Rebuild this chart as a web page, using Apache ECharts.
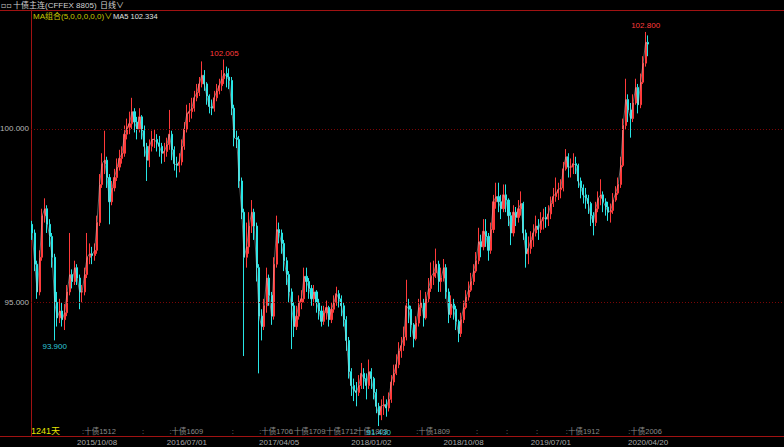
<!DOCTYPE html>
<html><head><meta charset="utf-8">
<script src="https://cdn.jsdelivr.net/npm/echarts@6/dist/echarts.min.js"></script>
<style>html,body{margin:0;padding:0;background:#000;}#c{width:784px;height:447px;}</style>
</head><body><div id="c"></div>
<script>
// ---- texts ----
const titleText = '十债主连(CFFEX 8805)';
const periodText = '日线∨';
const maTitle = 'MA组合(5,0,0,0,0,0)∨';
const maValueText = 'MA5 102.334';
const dayCountText = '1241天';

// ---- weekly candles (open = previous close) ----
const firstOpen = 97.25;
const closes = [
97.0,96.1,95.3,96.3,97.5,97.7,97.25,96.9,96.3,95.0,
94.55,94.75,94.5,94.7,95.3,95.8,95.6,96.0,95.7,95.3,
95.3,95.8,96.3,96.4,96.35,96.5,97.3,98.4,99.0,99.1,
98.6,97.9,98.3,98.6,98.9,99.15,99.3,99.85,100.05,100.15,
100.5,100.2,100.0,100.35,99.95,99.5,99.1,99.5,99.7,99.7,
99.6,99.5,99.3,99.35,99.55,99.85,99.4,99.0,98.95,99.05,
99.5,100.0,100.45,100.5,100.6,100.9,101.05,101.3,101.55,101.3,
100.95,100.65,100.6,100.9,101.1,101.25,101.45,101.6,101.5,101.4,
100.6,99.75,99.7,98.5,97.6,96.3,96.6,97.2,97.6,97.2,
96.0,94.6,94.3,94.9,95.7,95.2,94.6,96.1,97.1,97.0,
96.7,96.2,95.8,95.3,94.9,94.3,94.6,95.0,95.1,95.75,
95.6,95.4,95.1,95.3,95.0,94.75,94.45,94.7,94.85,94.5,
94.8,95.0,95.25,95.1,94.9,94.5,93.9,93.0,92.6,92.45,
92.4,92.6,92.95,92.8,92.6,93.0,92.8,92.4,92.0,91.75,
92.0,92.05,91.95,92.2,92.7,92.95,93.2,93.6,93.75,94.0,
94.9,94.8,94.35,93.95,94.4,94.85,95.0,94.55,95.1,95.4,
95.75,95.85,96.1,95.6,95.7,96.0,95.3,94.65,94.95,94.8,
94.45,94.1,94.5,94.85,95.15,95.35,95.6,95.9,96.2,96.75,
96.6,97.05,96.9,96.5,97.1,97.9,98.05,97.9,97.7,98.1,
97.95,97.5,97.0,97.6,97.45,97.7,97.85,97.0,96.4,96.55,
96.8,97.0,97.2,97.1,97.35,97.45,97.4,97.55,97.85,98.05,
98.15,98.25,98.3,98.85,99.2,98.9,98.9,99.0,98.95,98.5,
98.3,98.1,98.0,97.85,97.5,97.3,97.7,98.0,98.1,97.9,
97.75,97.6,97.65,97.95,98.15,98.4,98.95,100.1,100.85,100.55,
100.3,100.75,101.2,100.7,101.35,101.9,102.5,102.45];
const highs = [
97.35,97.1,96.2,96.5,97.7,98.0,97.8,97.4,97.0,96.4,
95.3,95.1,95.0,94.95,95.5,97.0,95.95,96.2,96.1,95.8,
95.5,96.0,97.0,96.7,96.6,96.7,97.5,98.7,99.3,99.95,
99.2,98.7,98.5,98.85,99.15,99.4,99.5,100.1,100.3,100.5,
100.9,100.6,100.35,100.6,100.4,100.1,99.6,99.7,99.95,100.0,
99.85,99.8,99.6,99.6,99.75,100.55,99.95,99.5,99.2,99.3,
99.7,100.2,100.7,100.75,100.9,101.1,101.3,101.5,101.95,101.7,
101.35,101.0,100.85,101.1,101.3,101.45,101.7,102.005,101.8,101.75,
101.5,100.7,99.95,99.8,98.6,97.7,97.3,97.6,97.95,97.7,
97.3,96.1,94.8,95.1,96.0,95.8,95.3,96.3,97.5,97.3,
97.1,96.8,96.3,95.9,95.4,95.0,94.9,95.2,95.35,96.0,
96.0,95.7,95.5,95.5,95.35,95.1,94.9,94.9,95.05,94.9,
95.0,95.2,95.45,95.35,95.2,95.0,94.6,94.0,93.1,92.8,
92.7,92.9,93.25,93.1,92.95,93.35,93.1,92.85,92.5,92.1,
92.2,92.3,92.2,92.4,92.9,93.2,93.5,93.85,94.0,94.3,
95.65,95.1,94.9,94.4,94.6,95.1,95.35,95.1,95.3,95.7,
96.15,96.2,96.55,96.2,96.0,96.25,96.1,95.4,95.2,95.1,
94.9,94.5,94.7,95.05,95.35,95.6,95.85,96.1,96.45,97.15,
96.95,97.4,97.4,97.0,97.3,98.1,98.45,98.45,98.1,98.4,
98.4,98.0,97.6,97.8,97.75,97.95,98.2,97.9,97.1,96.9,
97.05,97.25,97.5,97.4,97.6,97.7,97.75,97.8,98.05,98.3,
98.6,98.45,98.55,99.05,99.42,99.3,99.15,99.3,99.2,99.0,
98.6,98.4,98.3,98.1,97.9,97.6,97.9,98.2,98.55,98.2,
98.0,97.9,97.85,98.15,98.35,98.6,99.2,100.3,101.45,101.0,
100.75,101.0,101.45,101.3,101.6,102.1,102.8,102.7];
const lows = [
96.8,95.9,95.1,95.2,96.2,97.3,97.0,96.6,96.0,93.9,
94.3,94.4,94.3,94.2,94.6,95.2,95.4,95.5,95.5,94.8,
95.0,95.2,95.7,96.1,96.1,96.2,96.4,97.2,98.3,98.7,
98.3,97.25,97.8,98.2,98.5,98.8,99.0,99.2,99.7,99.85,
100.0,99.9,99.7,99.9,99.7,99.2,98.5,98.9,99.35,99.45,
99.35,99.2,99.0,99.05,99.2,99.4,99.1,98.8,98.6,98.75,
98.95,99.4,99.9,100.2,100.3,100.5,100.8,100.95,101.2,101.1,
100.7,100.45,100.4,100.5,100.8,101.0,101.1,101.3,101.2,101.15,
100.4,99.5,99.45,98.3,97.4,93.45,96.0,96.4,97.0,96.8,
95.6,92.95,93.9,94.2,94.7,94.9,94.35,94.5,96.0,96.7,
96.4,95.9,95.5,95.0,93.65,94.0,94.2,94.5,94.8,95.0,
95.3,95.1,94.9,94.9,94.7,94.5,94.3,94.35,94.5,94.3,
94.4,94.7,94.9,94.85,94.6,94.3,93.6,92.8,92.3,92.15,
92.0,92.3,92.5,92.5,92.2,92.5,92.5,92.2,91.8,91.43,
91.6,91.75,91.7,91.85,92.1,92.6,92.9,93.1,93.4,93.6,
93.9,94.4,94.0,93.7,93.9,94.3,94.6,94.3,94.5,95.0,
95.3,95.5,95.7,95.3,95.3,95.6,95.1,94.4,94.55,94.5,
94.2,93.85,94.0,94.4,94.8,95.05,95.3,95.5,95.85,96.1,
96.3,96.5,96.6,96.2,96.4,97.0,97.7,97.6,97.4,97.6,
97.6,97.2,96.65,96.9,97.2,97.3,97.5,96.8,96.0,96.1,
96.4,96.6,96.9,96.8,97.0,97.1,97.15,97.2,97.4,97.75,
97.9,97.95,98.0,98.2,98.8,98.6,98.6,98.7,98.7,98.3,
98.0,97.85,97.7,97.55,97.2,96.93,97.2,97.6,97.8,97.6,
97.5,97.35,97.3,97.55,97.9,98.1,98.3,98.9,100.0,100.2,
99.75,100.2,100.7,100.45,100.6,101.3,101.8,102.1];

// ---- axis ticks ----
const tickIndex = [26, 62, 99, 136, 173, 208, 247];
const tickText = ['2015/10/08','2016/07/01','2017/04/05','2018/01/02','2018/10/08','2019/07/01','2020/04/20'];
const rollIndex = [20, 44, 55, 80, 91, 104, 117, 129, 154, 178, 190, 202, 214, 239];
const rollText = ['十债1512','','十债1609','','十债1706','十债1709','十债1712','十债1803','十债1809','','','','十债1912','十债2006'];
const gridLevels = [95, 100];
// extremes labelled on the chart: [from, to, kind]
const extremeRanges = [[0, 60, 'min'], [60, 130, 'max'], [100, 200, 'min'], [200, 248, 'max']];

// ---- layout / style ----
const yMin = 91.143, yMax = 103.433;
const padSlots = 54;
const UP = '#ff3a3a', DOWN = '#27e6e6', RED_LINE = '#a01212', GRID_RED = '#7a0606';
const NUMF = "'Liberation Sans',Arial,sans-serif";
const CJKF = "'Liberation Sans','Noto Sans CJK SC',sans-serif";

const n = closes.length;
const kdata = closes.map((c, i) => {
  const o = i === 0 ? firstOpen : closes[i - 1];
  return [o, c, Math.min(lows[i], o, c), Math.max(highs[i], o, c)];
});
const cats = [];
for (let i = 0; i < n + padSlots; i++) cats.push(String(i));
const ma = closes.slice();

const markData = extremeRanges.map(([a, b, kind]) => {
  let best = a;
  for (let i = a; i < Math.min(b, n); i++) {
    if (kind === 'max' ? kdata[i][3] > kdata[best][3] : kdata[i][2] < kdata[best][2]) best = i;
  }
  const v = kind === 'max' ? kdata[best][3] : kdata[best][2];
  return {
    coord: [best, v], value: v,
    label: {position: kind === 'max' ? 'top' : 'bottom', color: kind === 'max' ? '#ff3c3c' : '#2ec8d8', distance: 2}
  };
});

const chart = echarts.init(document.getElementById('c'), null, {renderer: 'svg'});
chart.setOption({
  backgroundColor: '#000',
  animation: false,
  grid: {left: 31, right: 0, top: 10, bottom: 11, containLabel: false, outerBoundsMode: 'none'},
  xAxis: [{
    type: 'category', data: cats, boundaryGap: true,
    axisLine: {show: true, lineStyle: {color: RED_LINE}},
    axisTick: {show: false}, splitLine: {show: false},
    axisLabel: {
      interval: (i) => tickIndex.includes(i),
      formatter: (v) => { const k = tickIndex.indexOf(Number(v)); return k >= 0 ? tickText[k] : ''; },
      color: '#a8a8a8', fontSize: 8, fontFamily: NUMF, margin: 2
    }
  }, {
    type: 'category', data: cats, boundaryGap: true, position: 'bottom',
    axisLine: {show: false}, axisTick: {show: false}, splitLine: {show: false},
    axisLabel: {
      inside: true, margin: 1, align: 'left',
      interval: (i) => rollIndex.includes(i),
      formatter: (v) => { const k = rollIndex.indexOf(Number(v)); return k >= 0 ? ':' + rollText[k] : ''; },
      color: '#8a8a8a', fontSize: 7.5, fontFamily: CJKF
    }
  }],
  yAxis: {
    type: 'value', min: yMin, max: yMax, position: 'left', scale: true,
    axisLine: {show: true, onZero: false, lineStyle: {color: RED_LINE}},
    axisTick: {show: false}, splitLine: {show: false},
    axisLabel: {customValues: gridLevels, formatter: (v) => v.toFixed(3), color: '#b8b8b8', fontSize: 8, fontFamily: NUMF, margin: 2}
  },
  series: [{
    name: 'K', type: 'candlestick', data: kdata, barWidth: 1.6,
    itemStyle: {color: UP, color0: DOWN, borderColor: UP, borderColor0: DOWN, borderWidth: 1},
    markPoint: {
      symbol: 'circle', symbolSize: 0, silent: true, data: markData,
      label: {show: true, formatter: (p) => Number(p.value).toFixed(3), fontSize: 8, fontFamily: NUMF}
    },
    markLine: {
      silent: true, symbol: ['none', 'none'], label: {show: false},
      lineStyle: {color: GRID_RED, type: [1, 2], width: 1},
      data: gridLevels.map(v => ({yAxis: v}))
    }
  }, {
    name: 'MA5', type: 'line', data: ma, showSymbol: false, symbol: 'none',
    lineStyle: {color: '#c8c8c8', width: 1, opacity: 0.5}, z: 3
  }],
  graphic: [
    {type: 'line', shape: {x1: 0, y1: 10.5, x2: 784, y2: 10.5}, style: {stroke: RED_LINE, lineWidth: 1}, silent: true},
    {type: 'line', shape: {x1: 31.5, y1: 10.5, x2: 31.5, y2: 436.5}, style: {stroke: RED_LINE, lineWidth: 1}, silent: true},
    {type: 'line', shape: {x1: 0, y1: 436.5, x2: 31, y2: 436.5}, style: {stroke: RED_LINE, lineWidth: 1}, silent: true},
    {type: 'text', x: 1, y: 5, style: {text: '▫▫', fill: '#c8c8c8', font: '8px DejaVu Sans', verticalAlign: 'middle'}},
    {type: 'text', x: 13, y: 5, style: {text: titleText, fill: '#d2d2d2', font: '8px ' + CJKF, verticalAlign: 'middle'}},
    {type: 'text', x: 100, y: 5, style: {text: periodText, fill: '#d2d2d2', font: '8px ' + CJKF, verticalAlign: 'middle'}},
    {type: 'text', x: 33, y: 16, style: {text: maTitle, fill: '#c8c800', font: '8px ' + CJKF, verticalAlign: 'middle'}},
    {type: 'text', x: 113, y: 16, style: {text: maValueText, fill: '#e0e0e0', font: '7.5px ' + NUMF, verticalAlign: 'middle'}},
    {type: 'text', x: 31, y: 431, style: {text: dayCountText, fill: '#e6e600', font: '9px ' + CJKF, verticalAlign: 'middle'}}
  ]
});
</script></body></html>
